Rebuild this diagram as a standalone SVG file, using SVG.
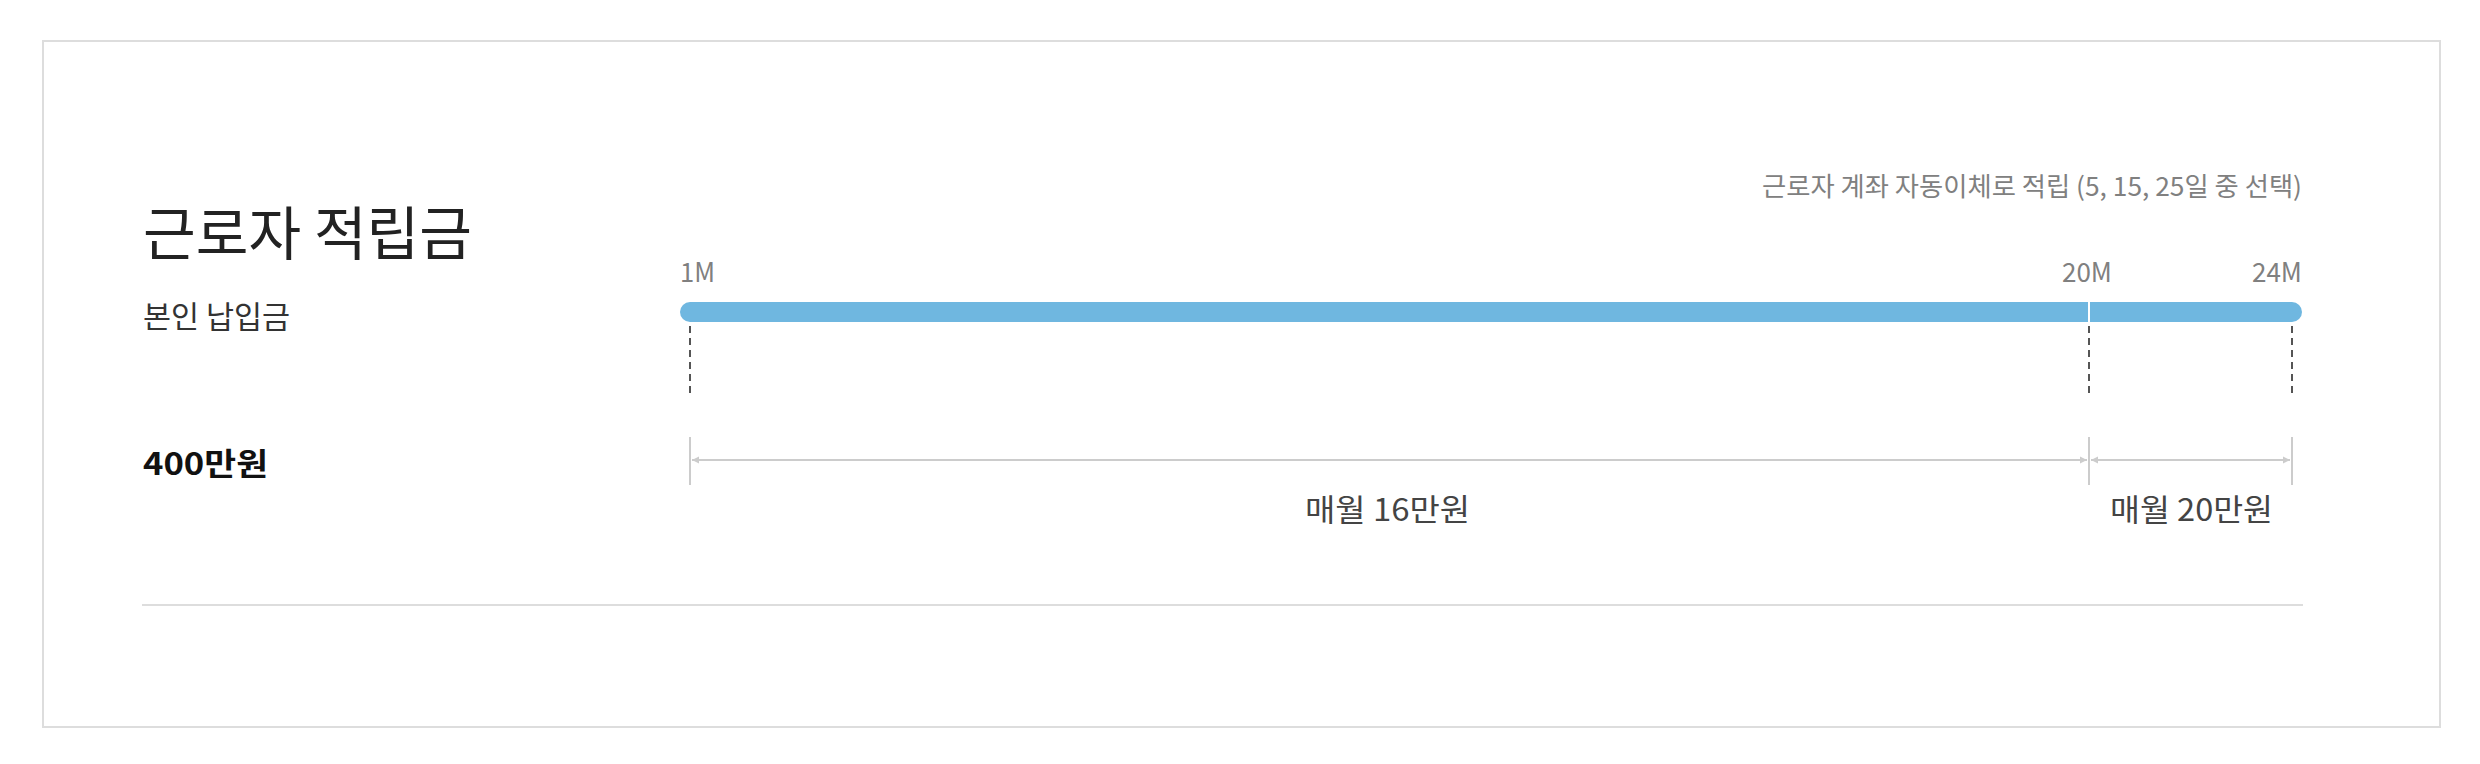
<svg xmlns="http://www.w3.org/2000/svg" width="2480" height="764" viewBox="0 0 2480 764">
  <defs>
    <style>
      text { font-family: "Noto Sans CJK KR", "Noto Sans", sans-serif; }
      .title { font-size: 58px; fill: #222; }
      .sub { font-size: 31px; fill: #333; }
      .amount { font-size: 31px; font-weight: 700; fill: #111; }
      .note { font-size: 26px; fill: #808080; }
      .tick { font-size: 27px; fill: #808080; }
      .dimlabel { font-size: 31px; fill: #444; }
      .dash { stroke: #555; stroke-width: 2; stroke-dasharray: 7 5; fill: none; }
      .tickline { stroke: #cccccc; stroke-width: 2; fill: none; }
      .dim { stroke: #cccccc; stroke-width: 2; fill: none; marker-start: url(#arr); marker-end: url(#arr); }
    </style>
    <marker id="arr" viewBox="0 0 10 10" refX="10" refY="5" markerWidth="7" markerHeight="9" markerUnits="userSpaceOnUse" orient="auto-start-reverse">
      <path d="M0,0 L10,5 L0,10 z" fill="#cccccc"/>
    </marker>
  </defs>

  <rect x="0" y="0" width="2480" height="764" fill="#ffffff"/>

  <g id="frame">
    <rect x="43" y="41" width="2397" height="686" fill="#ffffff" stroke="#dddddd" stroke-width="2"/>
    <line x1="142" y1="605" x2="2303" y2="605" stroke="#dddddd" stroke-width="2"/>
  </g>

  <g id="heading">
    <text class="title" x="143" y="255" textLength="329" lengthAdjust="spacingAndGlyphs">근로자 적립금</text>
    <text class="sub" x="143" y="328" textLength="147" lengthAdjust="spacingAndGlyphs">본인 납입금</text>
    <text class="amount" x="143" y="475" textLength="125" lengthAdjust="spacingAndGlyphs">400만원</text>
  </g>

  <g id="note">
    <text class="note" x="1762" y="196" textLength="540" lengthAdjust="spacingAndGlyphs">근로자 계좌 자동이체로 적립 (5, 15, 25일 중 선택)</text>
  </g>

  <g id="timeline-bar">
    <line x1="690" y1="312" x2="2292" y2="312" stroke="#6fb7e0" stroke-width="20" stroke-linecap="round"/>
    <line x1="2089" y1="302" x2="2089" y2="322" stroke="#ffffff" stroke-width="2"/>
  </g>

  <g id="tick-1M">
    <text class="tick" x="680" y="282" textLength="35" lengthAdjust="spacingAndGlyphs">1M</text>
  </g>
  <g id="tick-20M">
    <text class="tick" x="2062" y="282" textLength="50" lengthAdjust="spacingAndGlyphs">20M</text>
  </g>
  <g id="tick-24M">
    <text class="tick" x="2252" y="282" textLength="50" lengthAdjust="spacingAndGlyphs">24M</text>
  </g>

  <g id="connectors">
    <line class="dash" x1="690" y1="326" x2="690" y2="394"/>
    <line class="dash" x1="2089" y1="326" x2="2089" y2="394"/>
    <line class="dash" x1="2292" y1="326" x2="2292" y2="394"/>
    <line class="tickline" x1="690" y1="437" x2="690" y2="485"/>
    <line class="tickline" x1="2089" y1="437" x2="2089" y2="485"/>
    <line class="tickline" x1="2292" y1="437" x2="2292" y2="485"/>
    <line class="dim" x1="692" y1="460" x2="2087" y2="460"/>
    <line class="dim" x1="2091" y1="460" x2="2290" y2="460"/>
  </g>

  <g id="segment-16">
    <text class="dimlabel" x="1305" y="521" textLength="165" lengthAdjust="spacingAndGlyphs">매월 16만원</text>
  </g>
  <g id="segment-20">
    <text class="dimlabel" x="2110" y="521" textLength="163" lengthAdjust="spacingAndGlyphs">매월 20만원</text>
  </g>
</svg>
